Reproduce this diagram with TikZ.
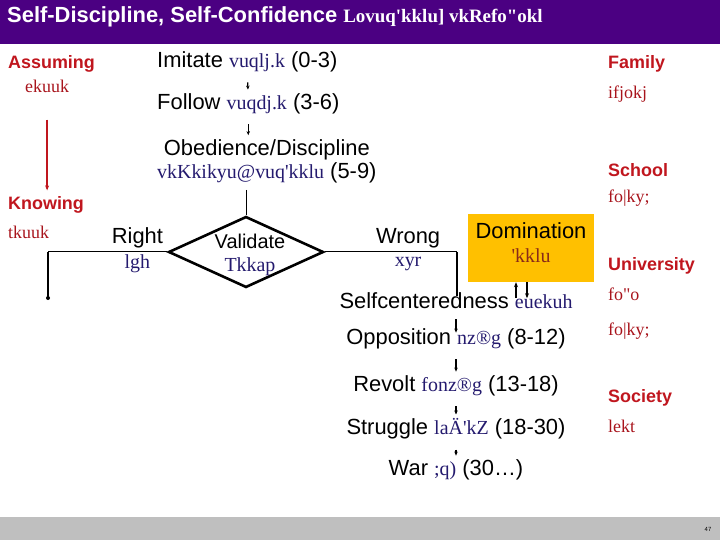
\documentclass[tikz,border=0pt]{standalone}
\usepackage{fontspec}
\setmainfont{Liberation Serif}
\setsansfont{Liberation Sans}
\usepackage{xcolor}
\usetikzlibrary{calc,arrows.meta,shapes.geometric}

\definecolor{headpurple}{HTML}{4B0082}
\definecolor{labelred}{HTML}{C0161E}
\definecolor{hindired}{HTML}{A8141C}
\definecolor{hindiblue}{HTML}{241A6E}
\definecolor{domorange}{HTML}{FFC000}
\definecolor{domred}{HTML}{8A2A18}
\definecolor{footgray}{HTML}{BFBFBF}

\newcommand{\krdev}[1]{{\rmfamily\fontsize{20}{23}\selectfont\color{hindiblue}#1}}

\begin{document}
\begin{tikzpicture}[x=1bp, y=-1bp,
    eng/.style={font=\sffamily\fontsize{22}{23}\selectfont, inner sep=1bp},
    phase/.style={font=\sffamily\bfseries\fontsize{18}{20}\selectfont, text=labelred, inner sep=1bp, anchor=west},
    phaseh/.style={font=\rmfamily\fontsize{18}{20}\selectfont, text=hindired, inner sep=1bp, anchor=west},
    decision/.style={diamond, draw=black, line width=2.6bp, minimum width=155bp, minimum height=71bp, inner sep=0pt},
    dombox/.style={rectangle, fill=domorange, minimum width=126bp, minimum height=68bp, align=center, inner sep=1bp, font=\sffamily\fontsize{22}{24}\selectfont},
    flowarrow/.style={line width=1.2bp, -{Stealth[length=4bp,width=3.5bp]}, shorten <=9bp, shorten >=3bp},
    domarrow/.style={line width=1.8bp, -{Stealth[length=5bp,width=4bp]}},
    redarrow/.style={line width=1.5bp, draw=labelred, -{Stealth[length=5bp,width=4bp]}, shorten <=26bp, shorten >=5bp},
    thinline/.style={line width=1bp},
    thickline/.style={line width=2bp}
]
    \useasboundingbox (0,0) rectangle (720,540);

    % header and footer bars
    \fill[headpurple] (0,0) rectangle (720,44);
    \node[anchor=west, text=white, inner sep=0pt] (title) at (7,17)
        {\sffamily\bfseries\fontsize{22}{24}\selectfont Self-Discipline, Self-Confidence {\rmfamily\fontsize{19}{22}\selectfont Lovuq\textquotesingle kklu] vkRefo\textquotedbl okl}};
    \fill[footgray] (0,517) rectangle (720,540);
    \node[font=\sffamily\fontsize{6}{7}\selectfont, inner sep=0pt] (pagenum) at (708,529) {47};

    % left column
    \node[phase] (assuming) at (7,64) {Assuming};
    \node[phaseh] (assumingh) at (24,86) {ekuuk};
    \node[phase] (knowing) at (7,205) {Knowing};
    \node[phaseh] (knowingh) at (7,232) {tkuuk};
    \draw[redarrow] (assumingh) -- (assumingh |- knowing.north);

    % right column
    \node[phase] (family) at (607,64) {Family};
    \node[phaseh] (familyh) at (607,94) {ifjokj};
    \node[phase] (school) at (607,170) {School};
    \node[phaseh] (schoolh) at (607,198) {fo|ky;};
    \node[phase] (university) at (607,266) {University};
    \node[phaseh] (universityh) at (607,294) {fo\textquotedbl o};
    \node[phaseh] (collegeh) at (607,331) {fo|ky;};
    \node[phase] (society) at (607,398) {Society};
    \node[phaseh] (societyh) at (607,426) {lekt};

    % childhood stages
    \node[eng, anchor=west] (imitate) at (156,62) {Imitate \krdev{vuqlj.k} (0-3)};
    \node[eng, anchor=west] (follow) at (156,104) {Follow \krdev{vuqdj.k} (3-6)};
    \node[eng, anchor=west, align=center] (obedience) at (156,161) {Obedience/Discipline\\\krdev{vkKkikyu@vuq\textquotesingle kklu} (5-9)};
    \draw[flowarrow] (imitate) -- (follow);
    \draw[flowarrow] (follow) -- (follow |- obedience.north);

    \node[decision] (validate) at (246,252) {};
    \node[eng, align=center, font=\sffamily\fontsize{20}{23}\selectfont] (validatetext) at (250,255) {Validate\\\krdev{Tkkap}};
    \draw[thinline, shorten <=6bp] (validate.north |- obedience.south) -- (validate.north);

    % right / wrong branches
    \coordinate (rightcorner) at (48,252);
    \coordinate (rightend) at (48,298);
    \draw[thinline] (validate.west) -- node[pos=0.25, above=2bp, eng] (rightlbl) {Right} node[pos=0.25, below=1bp, eng] (rightlblh) {\krdev{lgh}} (rightcorner);
    \draw[thickline] (rightcorner) -- (rightend);
    \fill (rightend) circle (2bp);

    \node[dombox] (domination) at (531,248) {Domination\\{\rmfamily\fontsize{20}{23}\selectfont\color{domred}\textquotesingle kklu}\rule[-10bp]{0pt}{10bp}};

    \node[eng] (selfcentered) at (456,301) {Selfcenteredness \krdev{euekuh}};
    \coordinate (wrongcorner) at (457,252);
    \draw[thinline] (validate.east) -- node[pos=0.63, above=2bp, eng] (wronglbl) {Wrong} node[pos=0.63, below=4bp, eng] (wronglblh) {\krdev{xyr}} (wrongcorner);
    \draw[thickline, shorten >=-4bp] (wrongcorner) -- (wrongcorner |- selfcentered.north);

    \draw[domarrow] ($(domination.south)+(-15,16)$) -- ($(domination.south)+(-15,0)$);
    \draw[domarrow] ($(domination.south)+(-4,0)$) -- ($(domination.south)+(-4,16)$);

    % later stages
    \node[eng] (opposition) at (456,339) {Opposition \krdev{nz®g} (8-12)};
    \node[eng] (revolt) at (456,386) {Revolt \krdev{fonz®g} (13-18)};
    \node[eng] (struggle) at (456,429) {Struggle \krdev{laÄ\textquotesingle kZ} (18-30)};
    \node[eng] (war) at (456,470) {War \krdev{;q)} (30…)};
    \draw[flowarrow, shorten >=-5bp] (selfcentered) -- (opposition);
    \draw[flowarrow] (opposition) -- (revolt);
    \draw[flowarrow] (revolt) -- (struggle);
    \draw[flowarrow] (struggle) -- (war);
\end{tikzpicture}
\end{document}
